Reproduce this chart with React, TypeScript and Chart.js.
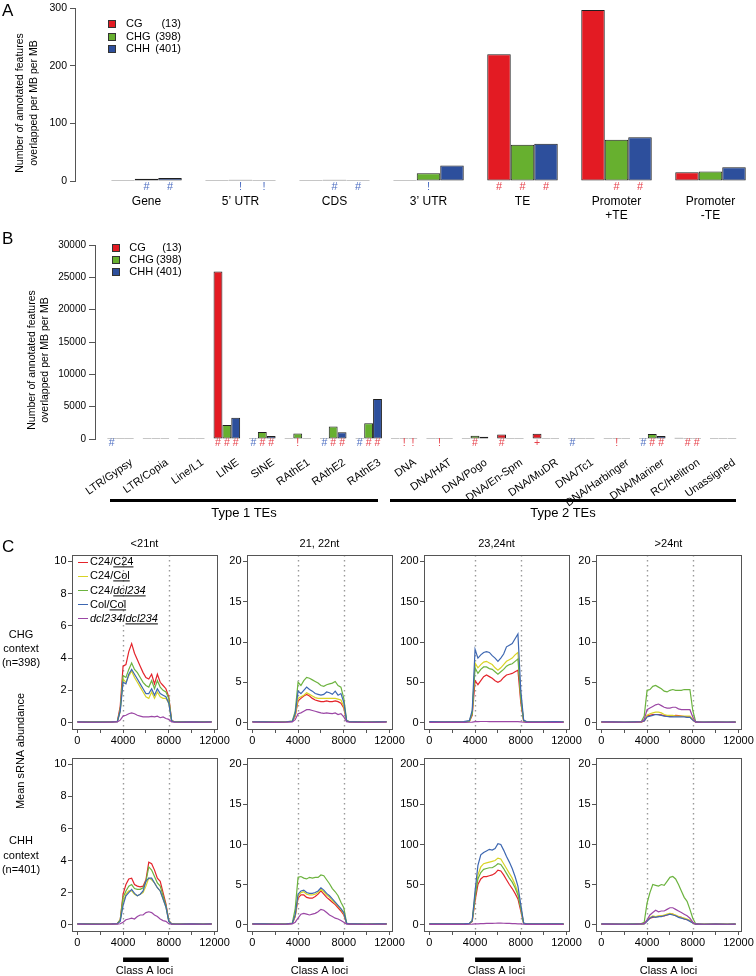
import React, { useEffect, useRef } from 'react';
import { Chart, registerables } from 'chart.js';

Chart.register(...registerables);

const FONT = "'Liberation Sans', Arial, Helvetica, sans-serif";
Chart.defaults.font.family = FONT;
Chart.defaults.color = '#000';

// ---------------- shared ----------------
const METHYL_CONTEXTS = ['CG', 'CHG', 'CHH'];
const METHYL_COUNTS = ['(13)', '(398)', '(401)'];
const BAR_COLORS = ['#e31b23', '#67b02f', '#2d4f9c'];
const MARK_RED = '#e6404a';
const MARK_BLUE = '#4d6ec2';
const AXIS_COLOR = '#555555';

// ---------------- Panel A ----------------
const A_CATEGORIES: (string | string[])[] = ['Gene', '5\u2019 UTR', 'CDS', '3\u2019 UTR', 'TE', ['Promoter', '+TE'], ['Promoter', '-TE']];
const A_CG = [0, 0, 0, 0, 220, 297, 15];
const A_CHG = [4, 2, 2, 13.5, 63, 71.5, 16.5];
const A_CHH = [5, 0.5, 1.5, 27, 64.5, 76, 24];
const A_Y_TICKS = [0, 100, 200, 300];
const A_MARKS_CG = ['', '', '', '', 'r#', '', ''];
const A_MARKS_CHG = ['b#', 'b!', 'b#', 'b!', 'r#', 'r#', ''];
const A_MARKS_CHH = ['b#', 'b!', 'b#', '', 'r#', 'r#', ''];

// ---------------- Panel B ----------------
const B_CATEGORIES = ['LTR/Gypsy', 'LTR/Copia', 'Line/L1', 'LINE', 'SINE', 'RAthE1', 'RAthE2', 'RAthE3', 'DNA', 'DNA/HAT', 'DNA/Pogo', 'DNA/En-Spm', 'DNA/MuDR', 'DNA/Tc1', 'DNA/Harbinger', 'DNA/Mariner', 'RC/Helitron', 'Unassigned'];
const B_CG = [0, 20, 10, 25900, 0, 0, 0, 0, 50, 20, 0, 700, 800, 0, 20, 80, 200, 0];
const B_CHG = [0, 40, 50, 2150, 1100, 850, 1950, 2450, 100, 40, 500, 50, 50, 0, 50, 780, 100, 0];
const B_CHH = [0, 40, 100, 3300, 450, 0, 1050, 6200, 100, 20, 350, 50, 50, 0, 50, 450, 100, 0];
const B_Y_TICKS = [0, 5000, 10000, 15000, 20000, 25000, 30000];
const B_MARKS_CG = ['b#', '', '', 'r#', 'b#', '', 'b#', 'b#', '', '', '', 'r#', 'r+', 'b#', '', 'b#', '', ''];
const B_MARKS_CHG = ['', '', '', 'r#', 'r#', 'r!', 'r#', 'r#', 'r!', 'r!', 'r#', '', '', '', 'r!', 'r#', 'r#', ''];
const B_MARKS_CHH = ['', '', '', 'r#', 'r#', '', 'r#', 'r#', 'r!', '', '', '', '', '', '', 'r#', 'r#', ''];

// ---------------- Panel C ----------------
const C_SERIES_NAMES = ['C24/C24', 'C24/Col', 'C24/dcl234', 'Col/Col', 'dcl234/dcl234'];
const C_COLORS = ['#e4242b', '#d8d326', '#6cb33f', '#3d67b1', '#9b47a5'];
const C_TITLES = ['<21nt', '21, 22nt', '23,24nt', '>24nt'];
const C_X = [0, 1000, 2000, 3000, 3500, 3750, 4000, 4250, 4500, 4750, 5000, 5250, 5500, 5750, 6000, 6250, 6500, 6750, 7000, 7250, 7500, 7750, 8000, 8250, 8500, 9000, 10000, 11000, 11750];
const C_X_TICKS = [0, 2000, 4000, 6000, 8000, 10000, 12000];
const C_X_LABELED = [0, 4000, 8000, 12000];
const C_DOTTED = [4000, 8000];
const C_CLASS_A = [4000, 8000];
const C_Y_TICKS_10 = [0, 2, 4, 6, 8, 10];
const C_Y_TICKS_20 = [0, 5, 10, 15, 20];
const C_Y_TICKS_200 = [0, 50, 100, 150, 200];

// CHG context, <21nt
const CHG_A_C24C24 = [0.05, 0.04, 0.03, 0.05, 0.08, 1.0, 3.5, 3.6, 4.4, 4.9, 4.3, 3.9, 3.5, 3.1, 2.8, 2.7, 3.0, 2.4, 3.0, 2.5, 2.3, 2.1, 1.6, 0.12, 0.05, 0.04, 0.05, 0.04, 0.05];
const CHG_A_C24COL = [0.04, 0.03, 0.03, 0.04, 0.06, 0.7, 2.7, 2.5, 2.9, 3.2, 2.8, 2.5, 2.2, 1.9, 1.6, 1.5, 1.9, 1.5, 1.9, 1.6, 1.5, 1.5, 1.2, 0.1, 0.04, 0.03, 0.04, 0.03, 0.04];
const CHG_A_C24DCL = [0.05, 0.03, 0.04, 0.04, 0.07, 0.8, 2.9, 2.8, 3.3, 3.7, 3.3, 3.1, 2.8, 2.5, 2.3, 2.2, 2.6, 2.1, 2.6, 2.2, 2.0, 1.9, 1.5, 0.1, 0.05, 0.04, 0.04, 0.04, 0.05];
const CHG_A_COLCOL = [0.04, 0.03, 0.03, 0.04, 0.06, 0.7, 2.5, 2.4, 3.0, 3.3, 3.0, 2.7, 2.4, 2.1, 1.8, 1.8, 2.1, 1.7, 2.1, 1.8, 1.7, 1.6, 1.2, 0.1, 0.04, 0.03, 0.04, 0.03, 0.04];
const CHG_A_DCLDCL = [0.03, 0.02, 0.02, 0.03, 0.04, 0.15, 0.4, 0.45, 0.55, 0.6, 0.55, 0.45, 0.4, 0.35, 0.35, 0.35, 0.38, 0.35, 0.4, 0.3, 0.35, 0.25, 0.2, 0.04, 0.03, 0.02, 0.03, 0.02, 0.03];
// CHG context, 21-22nt
const CHG_B_C24C24 = [0.1, 0.08, 0.06, 0.1, 0.15, 0.8, 2.7, 3.0, 3.3, 3.5, 3.3, 3.0, 2.8, 2.7, 2.6, 2.6, 2.7, 2.6, 2.6, 2.7, 2.6, 2.4, 1.8, 0.2, 0.1, 0.08, 0.06, 0.08, 0.1];
const CHG_B_C24COL = [0.1, 0.08, 0.06, 0.1, 0.15, 0.9, 3.0, 3.2, 3.4, 3.7, 3.5, 3.3, 3.1, 3.0, 3.0, 3.0, 3.0, 3.0, 3.0, 3.0, 2.9, 2.8, 2.0, 0.2, 0.1, 0.08, 0.06, 0.08, 0.1];
const CHG_B_C24DCL = [0.1, 0.08, 0.06, 0.1, 0.2, 1.4, 5.0, 4.6, 5.2, 5.6, 5.5, 5.3, 5.1, 4.9, 4.6, 4.5, 4.7, 4.8, 4.9, 5.1, 4.6, 4.4, 3.0, 0.25, 0.1, 0.08, 0.06, 0.08, 0.1];
const CHG_B_COLCOL = [0.1, 0.08, 0.06, 0.1, 0.15, 1.1, 3.9, 3.6, 4.0, 4.4, 4.1, 3.9, 3.6, 3.5, 3.4, 3.5, 3.8, 3.7, 3.5, 3.9, 3.4, 3.6, 2.5, 0.2, 0.1, 0.08, 0.06, 0.08, 0.1];
const CHG_B_DCLDCL = [0.05, 0.04, 0.03, 0.05, 0.08, 0.35, 1.1, 1.2, 1.4, 1.6, 1.6, 1.5, 1.4, 1.3, 1.2, 1.15, 1.2, 1.15, 1.1, 1.2, 1.0, 1.1, 0.7, 0.1, 0.05, 0.04, 0.03, 0.04, 0.05];
// CHG context, 23-24nt
const CHG_C_C24C24 = [0.8, 0.6, 0.7, 0.8, 1.5, 9, 52, 47, 52, 57, 59, 57, 55, 52, 50, 52, 56, 59, 60, 61, 63, 65, 25, 2, 0.8, 0.7, 0.6, 0.8, 0.7];
const CHG_C_C24COL = [0.9, 0.7, 0.8, 0.9, 1.8, 12, 74, 68, 72, 75, 76, 74, 72, 68, 65, 68, 72, 76, 78, 80, 84, 87, 32, 2.5, 0.9, 0.8, 0.7, 0.9, 0.8];
const CHG_C_C24DCL = [0.8, 0.6, 0.7, 0.8, 1.6, 11, 68, 61, 66, 69, 69, 67, 66, 63, 60, 63, 66, 70, 72, 73, 76, 79, 30, 2.2, 0.8, 0.7, 0.6, 0.8, 0.7];
const CHG_C_COLCOL = [1.2, 0.9, 1.0, 1.1, 2.5, 15, 91, 80, 84, 87, 88, 87, 83, 80, 76, 80, 85, 94, 96, 98, 104, 110, 40, 3, 1.2, 1.0, 0.9, 1.1, 1.0];
const CHG_C_DCLDCL = [0.3, 0.3, 0.3, 0.3, 0.4, 0.6, 1.2, 1.2, 1.3, 1.3, 1.3, 1.2, 1.2, 1.2, 1.1, 1.2, 1.2, 1.2, 1.2, 1.1, 1.1, 1.1, 0.8, 0.4, 0.3, 0.3, 0.3, 0.3, 0.3];
// CHG context, >24nt
const CHG_D_C24C24 = [0.05, 0.04, 0.03, 0.05, 0.06, 0.2, 0.8, 0.9, 1.0, 1.0, 1.0, 0.95, 0.85, 0.8, 0.75, 0.8, 0.9, 0.85, 0.8, 0.75, 0.7, 0.7, 0.35, 0.05, 0.04, 0.03, 0.04, 0.03, 0.04];
const CHG_D_C24COL = [0.06, 0.05, 0.04, 0.05, 0.07, 0.25, 0.9, 1.1, 1.2, 1.3, 1.3, 1.2, 1.0, 0.9, 0.9, 0.9, 0.8, 0.8, 0.8, 0.8, 0.8, 0.8, 0.4, 0.06, 0.05, 0.04, 0.05, 0.04, 0.05];
const CHG_D_C24DCL = [0.1, 0.08, 0.06, 0.1, 0.12, 0.8, 4.0, 4.1, 4.5, 4.6, 4.4, 4.2, 3.9, 3.8, 4.0, 4.1, 4.0, 4.0, 4.0, 4.1, 4.1, 4.1, 1.5, 0.1, 0.08, 0.06, 0.08, 0.07, 0.08];
const CHG_D_COLCOL = [0.1, 0.08, 0.06, 0.08, 0.1, 0.2, 0.7, 0.8, 0.9, 1.0, 0.95, 0.9, 0.8, 0.75, 0.7, 0.7, 0.7, 0.7, 0.7, 0.7, 0.65, 0.65, 0.3, 0.08, 0.06, 0.05, 0.06, 0.05, 0.06];
const CHG_D_DCLDCL = [0.06, 0.05, 0.04, 0.05, 0.08, 0.4, 1.6, 1.8, 2.0, 2.2, 2.3, 2.1, 1.9, 1.8, 1.8, 1.9, 1.9, 1.7, 1.6, 1.6, 1.6, 1.6, 0.7, 0.06, 0.05, 0.04, 0.05, 0.04, 0.05];
// CHH context, <21nt
const CHH_A_C24C24 = [0.05, 0.04, 0.03, 0.05, 0.07, 0.3, 1.9, 2.5, 2.85, 2.9, 2.5, 2.4, 2.35, 2.4, 2.8, 3.9, 3.8, 3.4, 2.9, 2.7, 2.0, 1.3, 0.25, 0.05, 0.04, 0.03, 0.04, 0.03, 0.04];
const CHH_A_C24COL = [0.04, 0.03, 0.03, 0.04, 0.06, 0.25, 1.4, 1.9, 2.1, 2.1, 1.9, 1.8, 1.9, 2.0, 2.4, 2.9, 2.8, 2.6, 2.3, 2.1, 1.6, 1.1, 0.2, 0.04, 0.03, 0.03, 0.04, 0.03, 0.04];
const CHH_A_C24DCL = [0.05, 0.04, 0.03, 0.04, 0.06, 0.3, 1.7, 2.1, 2.4, 2.5, 2.25, 2.2, 2.2, 2.3, 2.7, 3.6, 3.4, 3.0, 2.6, 2.4, 1.8, 1.2, 0.25, 0.05, 0.04, 0.03, 0.04, 0.03, 0.04];
const CHH_A_COLCOL = [0.04, 0.03, 0.03, 0.04, 0.06, 0.2, 1.2, 1.8, 2.0, 2.2, 1.95, 1.8, 1.9, 2.1, 2.7, 2.9, 2.9, 2.6, 2.3, 2.1, 1.6, 1.1, 0.2, 0.04, 0.03, 0.03, 0.04, 0.03, 0.04];
const CHH_A_DCLDCL = [0.03, 0.02, 0.02, 0.03, 0.03, 0.05, 0.15, 0.3, 0.35, 0.4, 0.35, 0.5, 0.6, 0.6, 0.75, 0.8, 0.75, 0.6, 0.5, 0.35, 0.25, 0.2, 0.05, 0.03, 0.02, 0.02, 0.03, 0.02, 0.03];
// CHH context, 21-22nt
const CHH_B_C24C24 = [0.1, 0.08, 0.06, 0.1, 0.15, 1.0, 3.3, 3.7, 3.7, 3.4, 3.3, 3.3, 3.5, 3.8, 4.2, 3.8, 3.4, 3.1, 2.8, 2.5, 2.1, 1.7, 1.2, 0.15, 0.1, 0.08, 0.06, 0.08, 0.1];
const CHH_B_C24COL = [0.1, 0.08, 0.06, 0.1, 0.15, 1.1, 3.6, 4.0, 4.1, 3.8, 3.7, 3.7, 3.8, 4.0, 4.4, 4.1, 3.7, 3.4, 3.0, 2.7, 2.3, 1.9, 1.4, 0.15, 0.1, 0.08, 0.06, 0.08, 0.1];
const CHH_B_C24DCL = [0.1, 0.08, 0.06, 0.1, 0.2, 2.0, 5.9, 6.0, 5.8, 5.7, 5.9, 5.8, 5.9, 5.9, 6.2, 6.1, 5.6, 5.1, 4.5, 4.1, 3.6, 2.8, 2.1, 0.2, 0.1, 0.08, 0.06, 0.08, 0.1];
const CHH_B_COLCOL = [0.1, 0.08, 0.06, 0.1, 0.15, 1.2, 3.8, 4.2, 4.3, 4.0, 3.9, 3.9, 4.0, 4.2, 4.6, 4.3, 3.9, 3.6, 3.2, 2.8, 2.4, 2.0, 1.5, 0.15, 0.1, 0.08, 0.06, 0.08, 0.1];
const CHH_B_DCLDCL = [0.05, 0.04, 0.03, 0.05, 0.08, 0.3, 0.8, 1.3, 1.4, 1.3, 1.2, 1.3, 1.4, 1.6, 1.9, 1.8, 1.5, 1.2, 1.0, 0.8, 0.7, 0.5, 0.3, 0.06, 0.05, 0.04, 0.03, 0.04, 0.05];
// CHH context, 23-24nt
const CHH_C_C24C24 = [0.8, 0.6, 0.7, 0.8, 1.2, 4, 30, 50, 57, 60, 60, 61, 62, 64, 68, 67, 62, 56, 50, 45, 39, 32, 17, 1.5, 0.8, 0.7, 0.6, 0.8, 0.7];
const CHH_C_C24COL = [0.9, 0.7, 0.8, 0.9, 1.4, 5, 38, 62, 72, 76, 77, 78, 79, 80, 83, 82, 76, 70, 64, 58, 50, 40, 22, 1.8, 0.9, 0.8, 0.7, 0.9, 0.8];
const CHH_C_C24DCL = [0.8, 0.6, 0.7, 0.8, 1.3, 4.5, 34, 57, 65, 69, 70, 71, 71, 73, 76, 75, 70, 64, 58, 53, 46, 37, 20, 1.6, 0.8, 0.7, 0.6, 0.8, 0.7];
const CHH_C_COLCOL = [1.0, 0.8, 0.9, 1.0, 1.6, 5, 42, 74, 87, 90, 92, 94, 93, 95, 101, 100, 93, 85, 78, 70, 60, 48, 25, 2, 1.0, 0.9, 0.8, 1.0, 0.9];
const CHH_C_DCLDCL = [0.3, 0.3, 0.3, 0.3, 0.4, 0.5, 0.8, 1.0, 1.2, 1.3, 1.4, 1.5, 1.6, 1.7, 1.8, 1.8, 1.7, 1.5, 1.4, 1.2, 1.1, 1.0, 0.8, 0.4, 0.3, 0.3, 0.3, 0.3, 0.3];
// CHH context, >24nt
const CHH_D_C24C24 = [0.05, 0.04, 0.03, 0.05, 0.06, 0.1, 0.5, 0.8, 0.9, 1.0, 1.0, 1.1, 1.1, 1.2, 1.3, 1.3, 1.1, 1.0, 0.9, 0.7, 0.6, 0.5, 0.2, 0.05, 0.04, 0.03, 0.04, 0.03, 0.04];
const CHH_D_C24COL = [0.06, 0.05, 0.04, 0.05, 0.07, 0.12, 0.5, 0.9, 1.1, 1.0, 1.1, 1.1, 1.2, 1.3, 1.4, 1.3, 1.2, 1.0, 0.9, 0.8, 0.7, 0.5, 0.2, 0.06, 0.05, 0.04, 0.05, 0.04, 0.05];
const CHH_D_C24DCL = [0.1, 0.08, 0.06, 0.1, 0.12, 0.3, 2.7, 4.0, 5.0, 4.9, 4.8, 5.0, 4.9, 5.4, 5.9, 6.0, 5.7, 5.0, 4.2, 3.4, 2.9, 1.9, 0.8, 0.1, 0.08, 0.06, 0.08, 0.07, 0.08];
const CHH_D_COLCOL = [0.08, 0.06, 0.05, 0.06, 0.08, 0.1, 0.4, 0.8, 1.0, 0.9, 1.0, 1.0, 1.1, 1.2, 1.3, 1.2, 1.1, 0.9, 0.8, 0.7, 0.6, 0.4, 0.2, 0.06, 0.05, 0.04, 0.05, 0.04, 0.05];
const CHH_D_DCLDCL = [0.06, 0.05, 0.04, 0.05, 0.08, 0.15, 0.6, 1.2, 1.5, 1.8, 1.6, 1.7, 1.7, 1.9, 2.1, 2.1, 1.9, 1.7, 1.5, 1.3, 1.1, 0.8, 0.3, 0.06, 0.05, 0.04, 0.05, 0.04, 0.05];

const CHG_PLOTS = [
  [CHG_A_C24C24, CHG_A_C24COL, CHG_A_C24DCL, CHG_A_COLCOL, CHG_A_DCLDCL],
  [CHG_B_C24C24, CHG_B_C24COL, CHG_B_C24DCL, CHG_B_COLCOL, CHG_B_DCLDCL],
  [CHG_C_C24C24, CHG_C_C24COL, CHG_C_C24DCL, CHG_C_COLCOL, CHG_C_DCLDCL],
  [CHG_D_C24C24, CHG_D_C24COL, CHG_D_C24DCL, CHG_D_COLCOL, CHG_D_DCLDCL],
];
const CHH_PLOTS = [
  [CHH_A_C24C24, CHH_A_C24COL, CHH_A_C24DCL, CHH_A_COLCOL, CHH_A_DCLDCL],
  [CHH_B_C24C24, CHH_B_C24COL, CHH_B_C24DCL, CHH_B_COLCOL, CHH_B_DCLDCL],
  [CHH_C_C24C24, CHH_C_C24COL, CHH_C_C24DCL, CHH_C_COLCOL, CHH_C_DCLDCL],
  [CHH_D_C24C24, CHH_D_C24COL, CHH_D_C24DCL, CHH_D_COLCOL, CHH_D_DCLDCL],
];
const C_Y_MAX = [10, 20, 200, 20];
const C_Y_TICKS = [C_Y_TICKS_10, C_Y_TICKS_20, C_Y_TICKS_200, C_Y_TICKS_20];

// ---------------- layout (not data) ----------------
const C_BOX_LEFT = [72, 247, 424, 596];
const C_BOX_W = 145;
const C_ROW_TOP = [555, 758];
const C_ROW_H = [174, 173];
const C_ROW_BOTTOM = [20, 46];
const C_Y_W = 40;
const C_PAD_TOP = 22;
const C_PAD_RIGHT = 18;

type BarParams = {
  cats: (string | string[])[];
  values: number[][];
  marks: string[][];
  xMin: number; xMax: number; yMax: number; yTicks: number[];
  padTop: number; padRight: number; yWidth: number; xHeight: number;
  tickFont: number; catFont: number; catPad: number; rotation: number; labelOffset: number;
  tickLen: number; tickPad: number; markOffset: number; markFont: number;
};

function makeBarConfig(p: BarParams): any {
  const datasets = p.values.map((vals, k) => ({
    label: METHYL_CONTEXTS[k],
    data: vals.map((v, i) => ({ x: i + 1, y: v })),
    backgroundColor: BAR_COLORS[k],
    borderColor: '#1f1f1f',
    borderWidth: 1,
    borderSkipped: false,
    categoryPercentage: 0.75,
    barPercentage: 1,
    minBarLength: 1,
  }));
  const marksPlugin = {
    id: 'sigMarks',
    afterDatasetsDraw(chart: any) {
      const ctx = chart.ctx;
      ctx.save();
      ctx.font = `${p.markFont}px ${FONT}`;
      ctx.textAlign = 'center';
      ctx.textBaseline = 'middle';
      p.marks.forEach((row, k) => {
        const meta = chart.getDatasetMeta(k);
        row.forEach((m, i) => {
          if (!m) return;
          const el = meta.data[i];
          ctx.fillStyle = m[0] === 'r' ? MARK_RED : MARK_BLUE;
          ctx.fillText(m.slice(1), el.x, chart.chartArea.bottom + p.markOffset);
        });
      });
      ctx.restore();
    },
  };
  return {
    type: 'bar',
    data: { datasets },
    options: {
      responsive: false,
      animation: false,
      events: [],
      layout: { padding: { top: p.padTop, right: p.padRight, left: 0, bottom: 0 } },
      plugins: { legend: { display: false }, tooltip: { enabled: false }, title: { display: false } },
      scales: {
        x: {
          type: 'linear',
          min: p.xMin,
          max: p.xMax,
          offset: false,
          grid: { display: false, drawTicks: false },
          border: { display: false },
          afterFit: (s: any) => { s.height = p.xHeight; },
          afterBuildTicks: (s: any) => { s.ticks = p.cats.map((_, i) => ({ value: i + 1 })); },
          ticks: {
            autoSkip: false,
            minRotation: p.rotation,
            maxRotation: p.rotation,
            labelOffset: p.labelOffset,
            padding: p.catPad,
            font: { size: p.catFont, family: FONT },
            color: '#000',
            callback: (v: number) => p.cats[Math.round(v) - 1] ?? '',
          },
        },
        y: {
          min: 0,
          max: p.yMax,
          afterFit: (s: any) => { s.width = p.yWidth; },
          afterBuildTicks: (s: any) => { s.ticks = p.yTicks.map((v) => ({ value: v })); },
          grid: { display: true, drawOnChartArea: false, drawTicks: true, tickLength: p.tickLen, color: AXIS_COLOR, lineWidth: 1 },
          border: { display: true, color: AXIS_COLOR, width: 1 },
          ticks: { padding: p.tickPad, font: { size: p.tickFont, family: FONT }, color: '#000', callback: (v: number) => String(v) },
        },
      },
    },
    plugins: [marksPlugin],
  };
}

function makeLineConfig(series: number[][], yMax: number, yTicks: number[], title: string, bottomH: number, classBar: boolean): any {
  const pad = yMax * 0.04;
  const datasets = series.map((vals, k) => ({
    label: C_SERIES_NAMES[k],
    data: C_X.map((x, i) => ({ x, y: vals[i] })),
    borderColor: C_COLORS[k],
    borderWidth: 1.2,
    pointRadius: 0,
    fill: false,
    tension: 0,
    order: series.length - k,
  }));
  const framePlugin = {
    id: 'rFrame',
    beforeDatasetsDraw(chart: any) {
      const { ctx, chartArea: a, scales } = chart;
      ctx.save();
      ctx.strokeStyle = '#9a9a9a';
      ctx.lineWidth = 1.4;
      ctx.setLineDash([1.4, 3.6]);
      C_DOTTED.forEach((v) => {
        const px = Math.round(scales.x.getPixelForValue(v)) + 0.5;
        ctx.beginPath();
        ctx.moveTo(px, a.top);
        ctx.lineTo(px, a.bottom);
        ctx.stroke();
      });
      ctx.restore();
    },
    afterDraw(chart: any) {
      const { ctx, chartArea: a, scales } = chart;
      ctx.save();
      ctx.strokeStyle = AXIS_COLOR;
      ctx.lineWidth = 1;
      ctx.strokeRect(Math.round(a.left) + 0.5, Math.round(a.top) + 0.5, Math.round(a.right - a.left), Math.round(a.bottom - a.top));
      ctx.fillStyle = '#000';
      ctx.textAlign = 'center';
      ctx.textBaseline = 'middle';
      ctx.font = `11px ${FONT}`;
      if (title) ctx.fillText(title, (a.left + a.right) / 2, a.top - 11.5);
      if (classBar) {
        const x0 = scales.x.getPixelForValue(C_CLASS_A[0]);
        const x1 = scales.x.getPixelForValue(C_CLASS_A[1]);
        ctx.fillRect(x0, a.bottom + 26.5, x1 - x0, 4.5);
        ctx.fillText('Class A loci', (a.left + a.right) / 2, a.bottom + 39.5);
      }
      ctx.restore();
    },
  };
  return {
    type: 'line',
    data: { datasets },
    options: {
      responsive: false,
      animation: false,
      events: [],
      layout: { padding: { top: C_PAD_TOP, right: C_PAD_RIGHT, left: 0, bottom: 0 } },
      plugins: { legend: { display: false }, tooltip: { enabled: false }, title: { display: false } },
      scales: {
        x: {
          type: 'linear',
          min: -470,
          max: 12220,
          afterFit: (s: any) => { s.height = bottomH; },
          afterBuildTicks: (s: any) => { s.ticks = C_X_TICKS.map((v) => ({ value: v })); },
          grid: { display: true, drawOnChartArea: false, drawTicks: true, tickLength: 4, color: AXIS_COLOR },
          border: { display: true, color: AXIS_COLOR },
          ticks: {
            autoSkip: false,
            maxRotation: 0,
            padding: 1.5,
            font: { size: 11, family: FONT },
            color: '#000',
            callback: (v: number) => (C_X_LABELED.includes(v) ? String(v) : ''),
          },
        },
        y: {
          min: -pad,
          max: yMax + pad,
          afterFit: (s: any) => { s.width = C_Y_W; },
          afterBuildTicks: (s: any) => { s.ticks = yTicks.map((v) => ({ value: v })); },
          grid: { display: true, drawOnChartArea: false, drawTicks: true, tickLength: 4, color: AXIS_COLOR },
          border: { display: true, color: AXIS_COLOR },
          ticks: { padding: 1.5, font: { size: 11, family: FONT }, color: '#000', callback: (v: number) => String(v) },
        },
      },
    },
    plugins: [framePlugin],
  };
}

function ChartCanvas({ left, top, width, height, make }: { left: number; top: number; width: number; height: number; make: () => any }) {
  const ref = useRef<HTMLCanvasElement | null>(null);
  useEffect(() => {
    if (!ref.current) return;
    const chart = new Chart(ref.current, make());
    return () => chart.destroy();
  }, []);
  return (
    <canvas
      ref={ref}
      width={width}
      height={height}
      style={{ position: 'absolute', left, top, width, height, display: 'block' }}
    />
  );
}

function Label({ x, y, size = 11, align = 'center', rotate = false, lh, children }: any) {
  const tx = align === 'center' ? '-50%' : align === 'right' ? '-100%' : '0';
  return (
    <div
      style={{
        position: 'absolute',
        left: x,
        top: y,
        transform: `translate(${tx}, -50%)${rotate ? ' rotate(-90deg)' : ''}`,
        fontSize: size,
        lineHeight: lh ? `${lh}px` : 1.2,
        whiteSpace: 'nowrap',
        textAlign: align === 'right' ? 'right' : align === 'left' ? 'left' : 'center',
        color: '#000',
      }}
    >
      {children}
    </div>
  );
}

function BarLegend({ sqX, ys, textX, numRight, size }: { sqX: number; ys: number[]; textX: number; numRight: number; size: number }) {
  return (
    <>
      {METHYL_CONTEXTS.map((c, k) => (
        <React.Fragment key={c}>
          <div style={{ position: 'absolute', left: sqX - 4, top: ys[k] - 4, width: 8, height: 8, boxSizing: 'border-box', border: '1px solid #333', background: BAR_COLORS[k] }} />
          <Label x={textX} y={ys[k]} size={size} align="left">{c}</Label>
          <Label x={numRight} y={ys[k]} size={size} align="right">{METHYL_COUNTS[k]}</Label>
        </React.Fragment>
      ))}
    </>
  );
}

function legendText(name: string) {
  const [a, b] = name.split('/');
  const fmt = (s: string) => (s.startsWith('dcl') ? <i>{s}</i> : s);
  return (
    <>
      {fmt(a)}/<u>{fmt(b)}</u>
    </>
  );
}

export default function App() {
  const aParams: BarParams = {
    cats: A_CATEGORIES,
    values: [A_CG, A_CHG, A_CHH],
    marks: [A_MARKS_CG, A_MARKS_CHG, A_MARKS_CHH],
    xMin: 0.2394, xMax: 7.4202, yMax: 300, yTicks: A_Y_TICKS,
    padTop: 7, padRight: 6, yWidth: 75, xHeight: 41,
    tickFont: 10.5, catFont: 12, catPad: 13.5, rotation: 0, labelOffset: 0,
    tickLen: 5, tickPad: 3, markOffset: 5.5, markFont: 11,
  };
  const bParams: BarParams = {
    cats: B_CATEGORIES,
    values: [B_CG, B_CHG, B_CHH],
    marks: [B_MARKS_CG, B_MARKS_CHG, B_MARKS_CHH],
    xMin: 0.2807, xMax: 18.701, yMax: 30000, yTicks: B_Y_TICKS,
    padTop: 7, padRight: 8, yWidth: 95, xHeight: 77,
    tickFont: 10, catFont: 11, catPad: 17, rotation: 35, labelOffset: 11,
    tickLen: 6, tickPad: 3, markOffset: 4.5, markFont: 10.5,
  };

  const cCharts: any[] = [];
  [CHG_PLOTS, CHH_PLOTS].forEach((plots, r) => {
    plots.forEach((series, c) => {
      cCharts.push(
        <ChartCanvas
          key={`c-${r}-${c}`}
          left={C_BOX_LEFT[c] - C_Y_W}
          top={C_ROW_TOP[r] - C_PAD_TOP}
          width={C_Y_W + C_BOX_W + C_PAD_RIGHT}
          height={C_PAD_TOP + C_ROW_H[r] + C_ROW_BOTTOM[r]}
          make={() => makeLineConfig(series, C_Y_MAX[c], C_Y_TICKS[c], r === 0 ? C_TITLES[c] : '', C_ROW_BOTTOM[r], r === 1)}
        />
      );
    });
  });

  return (
    <div style={{ position: 'absolute', left: 0, top: 0, width: 756, height: 976, overflow: 'hidden', background: '#fff', fontFamily: FONT }}>
      {/* Panel A */}
      <ChartCanvas left={0} top={-1} width={756} height={223} make={() => makeBarConfig(aParams)} />
      <Label x={2} y={11} size={17} align="left">A</Label>
      <Label x={26} y={103} size={10.5} lh={13.5} rotate>Number of annotated features<br />overlapped per MB per MB</Label>
      <BarLegend sqX={111.5} ys={[24, 36.5, 49]} textX={126} numRight={181} size={11} />

      {/* Panel B */}
      <ChartCanvas left={0} top={236} width={756} height={280} make={() => makeBarConfig(bParams)} />
      <Label x={2} y={238.5} size={17} align="left">B</Label>
      <Label x={37.5} y={360} size={10.5} lh={13} rotate>Number of annotated features<br />overlapped per MB per MB</Label>
      <BarLegend sqX={115.5} ys={[247.7, 260, 272.3]} textX={129.3} numRight={181.7} size={11} />
      <div style={{ position: 'absolute', left: 110, top: 498.5, width: 268, height: 3, background: '#000' }} />
      <div style={{ position: 'absolute', left: 389.5, top: 498.5, width: 346.5, height: 3, background: '#000' }} />
      <Label x={244} y={513} size={13}>Type 1 TEs</Label>
      <Label x={563} y={513} size={13}>Type 2 TEs</Label>

      {/* Panel C */}
      {cCharts}
      <Label x={2} y={546.5} size={17} align="left">C</Label>
      <Label x={21} y={648} size={11} lh={14}>CHG<br />context<br />(n=398)</Label>
      <Label x={21} y={855} size={11} lh={14.5}>CHH<br />context<br />(n=401)</Label>
      <Label x={21} y={751} size={11} rotate>Mean sRNA abundance</Label>
      {C_SERIES_NAMES.map((name, k) => (
        <React.Fragment key={name}>
          <div style={{ position: 'absolute', left: 77.5, top: 562.3 + k * 14.1 - 0.6, width: 10, height: 1.3, background: C_COLORS[k] }} />
          <Label x={90} y={562.3 + k * 14.1} size={11} align="left">{legendText(name)}</Label>
        </React.Fragment>
      ))}
    </div>
  );
}
